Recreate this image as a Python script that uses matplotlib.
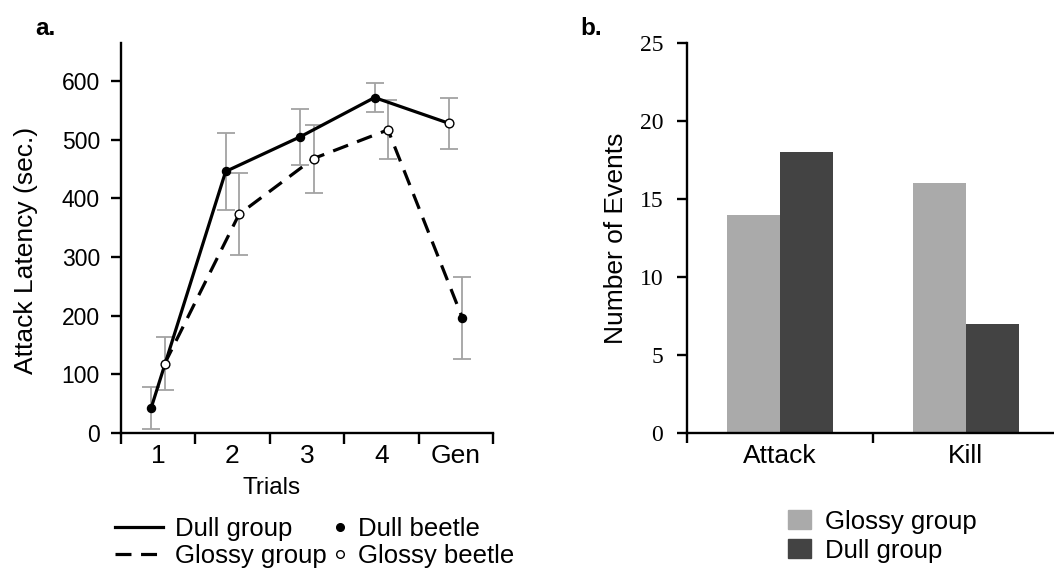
import numpy as np
import matplotlib
matplotlib.use("Agg")
import matplotlib.pyplot as plt
from matplotlib.lines import Line2D
from matplotlib.patches import Patch

plt.rcParams['font.family'] = ['Liberation Sans', 'DejaVu Sans']

# ---- data: panel a ----
trials = ['1', '2', '3', '4', 'Gen']
dull_group_mean = [43, 446, 505, 572, 528]
dull_group_err = [36, 65, 48, 25, 43]
dull_group_beetle = ['dull', 'dull', 'dull', 'dull', 'glossy']
glossy_group_mean = [118, 373, 468, 517, 196]
glossy_group_err = [45, 70, 58, 50, 70]
glossy_group_beetle = ['glossy', 'glossy', 'glossy', 'glossy', 'dull']

# ---- data: panel b ----
events = ['Attack', 'Kill']
glossy_counts = [14, 16]
dull_counts = [18, 7]

GLOSSY_BAR = '#aaaaaa'
DULL_BAR = '#434343'
ERR = '#a3a3a3'
SPW = 1.7

fig = plt.figure(figsize=(10.54, 5.69), dpi=100)

# ================= panel a =================
ax1 = fig.add_axes([0.1145, 0.239, 0.3532, 0.6854])
pos = np.arange(1, len(trials) + 1)
off = 0.09
x_dull = pos - off
x_glossy = pos + off

ax1.errorbar(x_dull, dull_group_mean, yerr=dull_group_err, fmt='none',
             ecolor=ERR, elinewidth=1.3, capsize=6.5, capthick=1.3, zorder=1)
ax1.errorbar(x_glossy, glossy_group_mean, yerr=glossy_group_err, fmt='none',
             ecolor=ERR, elinewidth=1.3, capsize=6.5, capthick=1.3, zorder=1)
ax1.plot(x_dull, dull_group_mean, color='black', lw=2.3, zorder=2)
ax1.plot(x_glossy, glossy_group_mean, color='black', lw=2.3,
         ls=(0, (5, 3)), zorder=2)

for xs, ys, kinds in [(x_dull, dull_group_mean, dull_group_beetle),
                      (x_glossy, glossy_group_mean, glossy_group_beetle)]:
    for xi, yi, k in zip(xs, ys, kinds):
        if k == 'dull':
            ax1.plot(xi, yi, 'o', ms=5.8, mfc='black', mec='black', zorder=3)
        else:
            ax1.plot(xi, yi, 'o', ms=6.3, mfc='white', mec='black',
                     mew=1.0, zorder=3)

ax1.set_xlim(0.5, len(trials) + 0.5)
ax1.set_ylim(0, 665)
ax1.set_xticks(np.arange(0.5, len(trials) + 1, 1.0))
ax1.set_xticklabels([])
ax1.set_xticks(pos, minor=True)
ax1.set_xticklabels(trials, minor=True)
ax1.tick_params(axis='x', which='major', length=8, width=SPW, direction='out')
ax1.tick_params(axis='x', which='minor', length=0, pad=8, labelsize=19)
ax1.set_yticks(np.arange(0, 601, 100))
ax1.tick_params(axis='y', length=7, width=SPW, direction='out', pad=8,
                labelsize=16.5)
for s in ['top', 'right']:
    ax1.spines[s].set_visible(False)
for s in ['left', 'bottom']:
    ax1.spines[s].set_linewidth(SPW)

ax1.set_ylabel('Attack Latency (sec.)', fontsize=19)
ax1.yaxis.set_label_coords(-0.222, 0.469)
ax1.set_xlabel('Trials', fontsize=17.5)
ax1.xaxis.set_label_coords(0.404, -0.112)

leg_lines = fig.legend(
    [Line2D([0], [0], color='black', lw=2.3),
     Line2D([0], [0], color='black', lw=2.3, ls=(0, (5, 3)))],
    ['Dull group', 'Glossy group'],
    loc='upper left', bbox_to_anchor=(0.1091, 0.0915),
    bbox_transform=fig.transFigure, frameon=False, fontsize=18.5,
    handlelength=1.87, handletextpad=0.45, borderpad=0, borderaxespad=0,
    labelspacing=0.1)
leg_marks = fig.legend(
    [Line2D([0], [0], ls='none', marker='o', ms=5.5, mfc='black', mec='black'),
     Line2D([0], [0], ls='none', marker='o', ms=5.5, mfc='white', mec='black',
            mew=1.0)],
    ['Dull beetle', 'Glossy beetle'],
    loc='upper left', bbox_to_anchor=(0.3155, 0.0915),
    bbox_transform=fig.transFigure, frameon=False, fontsize=18.5,
    handlelength=0.6, handletextpad=0.4, borderpad=0, borderaxespad=0,
    labelspacing=0.1, numpoints=1)

fig.text(35 / 1054, 1 - 35 / 569, 'a.', fontsize=17.5, fontweight='bold',
         va='baseline', ha='left')

# ================= panel b =================
ax2 = fig.add_axes([0.6515, 0.239, 0.3532, 0.6854])
xb = np.arange(len(events))
w = 0.285
ax2.bar(xb - w / 2, glossy_counts, w, color=GLOSSY_BAR, zorder=2)
ax2.bar(xb + w / 2, dull_counts, w, color=DULL_BAR, zorder=2)
ax2.set_xlim(-0.5, len(events) - 0.5)
ax2.set_ylim(0, 25)
ax2.set_xticks(np.arange(-0.5, len(events), 1.0))
ax2.set_xticklabels([])
ax2.set_xticks(xb, minor=True)
ax2.set_xticklabels(events, minor=True)
ax2.tick_params(axis='x', which='major', length=7, width=SPW, direction='out')
ax2.tick_params(axis='x', which='minor', length=0, pad=8, labelsize=19)
ax2.set_yticks(np.arange(0, 26, 5))
ax2.tick_params(axis='y', length=7, width=SPW, direction='out', pad=10,
                labelsize=17)
for lab in ax2.get_yticklabels():
    lab.set_fontfamily('Liberation Serif')
for s in ['top', 'right']:
    ax2.spines[s].set_visible(False)
for s in ['left', 'bottom']:
    ax2.spines[s].set_linewidth(SPW)
ax2.set_ylabel('Number of Events', fontsize=19)
ax2.yaxis.set_label_coords(-0.158, 0.5)

fig.legend([Patch(color=GLOSSY_BAR), Patch(color=DULL_BAR)],
           ['Glossy group', 'Dull group'],
           loc='upper left', bbox_to_anchor=(0.7476, 0.1044),
           bbox_transform=fig.transFigure, frameon=False, fontsize=18.5,
           handlelength=0.88, handleheight=0.76, handletextpad=0.56,
           borderpad=0, borderaxespad=0, labelspacing=0.2)

fig.text(580 / 1054, 1 - 35 / 569, 'b.', fontsize=17.5, fontweight='bold',
         va='baseline', ha='left')

fig.savefig('out.png', dpi=100)
